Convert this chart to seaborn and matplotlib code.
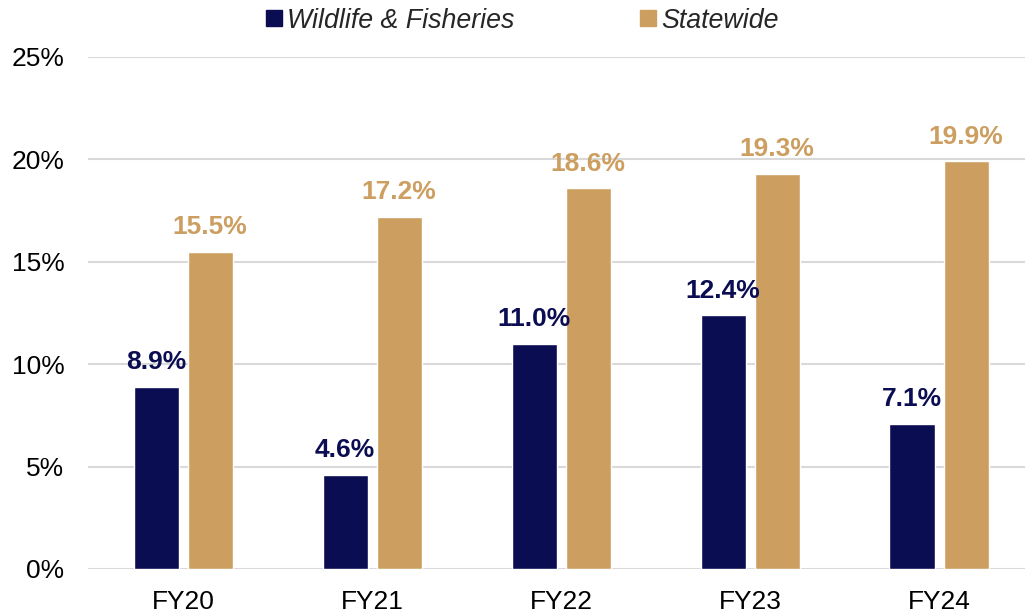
import pandas as pd
import seaborn as sns
import matplotlib.pyplot as plt
from matplotlib.lines import Line2D

years = ["FY20", "FY21", "FY22", "FY23", "FY24"]
wildlife = [8.9, 4.6, 11.0, 12.4, 7.1]
statewide = [15.5, 17.2, 18.6, 19.3, 19.9]
series_names = ["Wildlife & Fisheries", "Statewide"]
colors = ["#0B0D52", "#CC9E60"]

df = pd.DataFrame({
    "year": years * 2,
    "value": wildlife + statewide,
    "series": [series_names[0]] * len(years) + [series_names[1]] * len(years),
})

sns.set_style("white")
plt.rcParams["font.family"] = ["Liberation Sans", "DejaVu Sans"]

fig = plt.figure(figsize=(10.25, 6.12), dpi=100)
ax = fig.add_axes([0.0859, 0.0703, 0.9141, 0.8366])

sns.barplot(data=df, x="year", y="value", hue="series", palette=colors,
            width=0.572, gap=0.167, saturation=1, ax=ax, legend=False)

for cont, col in zip(ax.containers, colors):
    for bar in cont:
        h = bar.get_height()
        ax.annotate(f"{h:.1f}%", (bar.get_x() + bar.get_width() / 2, h),
                    xytext=(0, 9), textcoords="offset points",
                    ha="center", va="bottom", fontsize=19, fontweight="bold",
                    color=col)

ax.set_ylim(0, 25)
ax.set_xlim(-0.503, 4.455)
ax.set_yticks(range(0, 26, 5))
ax.set_yticklabels([f"{v}%" for v in range(0, 26, 5)])
ax.yaxis.grid(True, color="#D9D9D9", linewidth=1.5)
ax.set_axisbelow(True)
ax.tick_params(axis="both", labelsize=19, length=0, colors="black")
ax.tick_params(axis="y", pad=17)
ax.tick_params(axis="x", pad=15)
ax.set_xlabel("")
ax.set_ylabel("")
for s in ax.spines.values():
    s.set_visible(False)

handles = [Line2D([0], [0], marker="s", linestyle="", markersize=11,
                  markerfacecolor=c, markeredgecolor=c) for c in colors]
fig.legend(handles, series_names, loc="center", bbox_to_anchor=(0.507, 0.966),
           ncol=2, frameon=False, prop={"size": 19.3, "style": "italic"},
           handletextpad=0.0, columnspacing=4.5, handlelength=1.0)

fig.savefig("out.png", dpi=100)
